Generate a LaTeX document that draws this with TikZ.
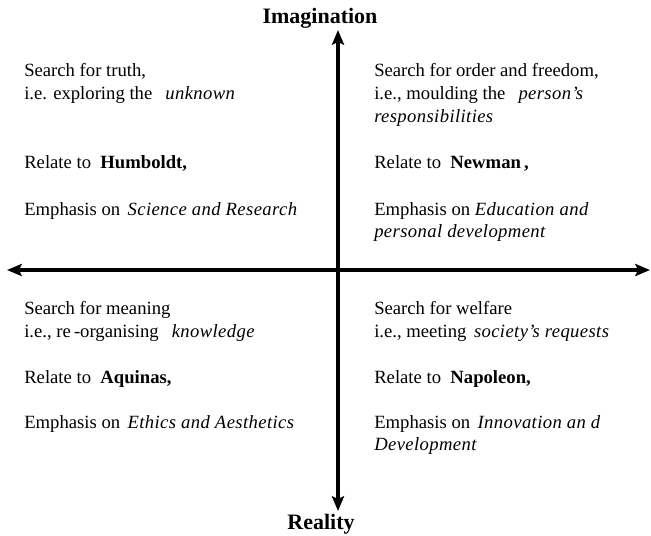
\documentclass[tikz,border=0pt]{standalone}
\usepackage{fontspec}
\setmainfont{Liberation Serif}
\usetikzlibrary{arrows.meta}
% italic phrases are set a little wider
\newcommand{\itw}[1]{{\itshape\addfontfeature{LetterSpace=2}#1}}
\begin{document}
\begin{tikzpicture}[x=0.75pt,y=-0.75pt,
  axis/.style={line width=2.4pt,{Stealth[length=11pt,width=9pt,inset=2pt]}-{Stealth[length=11pt,width=9pt,inset=2pt]}},
  txt/.style={anchor=base west,inner sep=0pt,font=\fontsize{14}{18}\selectfont},
  pole/.style={anchor=base,inner sep=0pt,font=\fontsize{16.5}{20}\selectfont\bfseries}]
\useasboundingbox (0,0) rectangle (651,536);
\fill[white] (0,0) rectangle (651,536);

% axes
\coordinate (N) at (338,30);
\coordinate (S) at (338,511);
\coordinate (W) at (7,270);
\coordinate (E) at (650,270);
\draw[axis] (S) -- (N);
\draw[axis] (W) -- (E);
\node[pole] (imag) at (320,23) {Imagination};
\node[pole] (real) at (321,529) {Reality};

% upper left quadrant
\node[txt] (ul1) at (24,76) {Search for truth,};
\node[txt] (ul2) at (24,99) {i.e. exploring the\hspace{0.7em}\itw{unknown}};
\node[txt] (ul3) at (24,168) {Relate to\hspace{0.5em}\textbf{Humboldt,}};
\node[txt] (ul4) at (24,215) {Emphasis on\hspace{0.4em}\itw{Science and Research}};

% upper right quadrant
\node[txt] (ur1) at (374,76) {Search for order and freedom,};
\node[txt] (ur2) at (374,99) {i.e., moulding the\hspace{0.7em}\itw{person's}};
\node[txt] (ur3) at (374,122) {\itw{responsibilities}};
\node[txt] (ur4) at (374,168) {Relate to\hspace{0.5em}\textbf{Newman\,,}};
\node[txt] (ur5) at (374,215) {Emphasis on \itw{Education and}};
\node[txt] (ur6) at (374,237) {\itw{personal development}};

% lower left quadrant
\node[txt] (ll1) at (24,314) {Search for meaning};
\node[txt] (ll2) at (24,337) {i.e., re\,-organising\hspace{0.7em}\itw{knowledge}};
\node[txt] (ll3) at (24,383) {Relate to\hspace{0.5em}\textbf{Aquinas,}};
\node[txt] (ll4) at (24,428) {Emphasis on\hspace{0.4em}\itw{Ethics and Aesthetics}};

% lower right quadrant
\node[txt] (lr1) at (374,314) {Search for welfare};
\node[txt] (lr2) at (374,337) {i.e., meeting\hspace{0.4em}\itw{society's requests}};
\node[txt] (lr3) at (374,383) {Relate to\hspace{0.5em}\textbf{Napoleon,}};
\node[txt] (lr4) at (374,428) {Emphasis on\hspace{0.4em}\itw{Innovation an d}};
\node[txt] (lr5) at (374,450) {\itw{Development}};
\end{tikzpicture}
\end{document}
